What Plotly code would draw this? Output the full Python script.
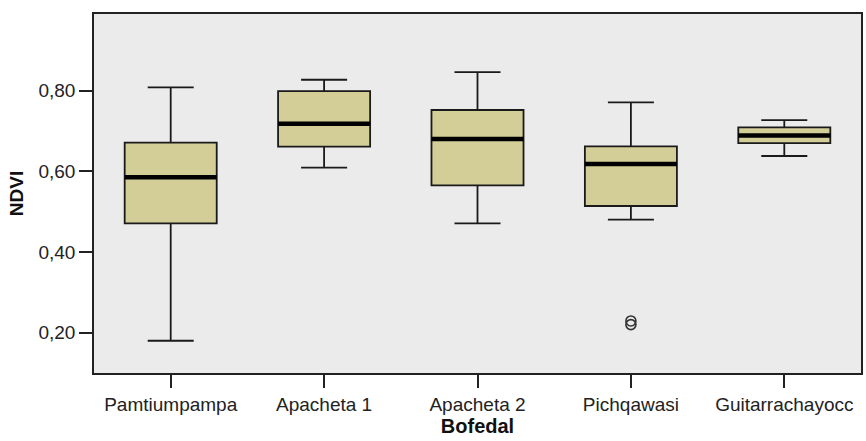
import plotly.graph_objects as go

# NDVI summary statistics per bofedal
bofedales = ["Pamtiumpampa", "Apacheta 1", "Apacheta 2", "Pichqawasi", "Guitarrachayocc"]
lower_whisker = [0.180, 0.609, 0.471, 0.480, 0.638]
q1 = [0.471, 0.661, 0.565, 0.514, 0.670]
median = [0.585, 0.718, 0.680, 0.618, 0.689]
q3 = [0.671, 0.799, 0.752, 0.662, 0.709]
upper_whisker = [0.808, 0.827, 0.846, 0.771, 0.727]

# Atypical values
outlier_group = ["Pichqawasi", "Pichqawasi"]
outlier_ndvi = [0.220, 0.229]

fig = go.Figure()

fig.add_trace(go.Box(
    x=bofedales,
    q1=q1, median=median, q3=q3,
    lowerfence=lower_whisker, upperfence=upper_whisker,
    fillcolor="#D3CE97",
    line=dict(color="#1a1a1a", width=1.8),
    whiskerwidth=0.5,
    boxpoints=False,
    showlegend=False,
    hoverinfo="skip",
))

# Thick median bar drawn as a collapsed box
fig.add_trace(go.Box(
    x=bofedales,
    q1=median, median=median, q3=median,
    lowerfence=median, upperfence=median,
    fillcolor="rgba(0,0,0,0)",
    line=dict(color="#000000", width=4.5),
    whiskerwidth=0,
    boxpoints=False,
    showlegend=False,
    hoverinfo="skip",
))

fig.add_trace(go.Scatter(
    x=outlier_group, y=outlier_ndvi,
    mode="markers",
    marker=dict(symbol="circle-open", size=10, color="#333333", line=dict(width=1.6)),
    showlegend=False,
    hoverinfo="skip",
))

fig.update_layout(
    width=866, height=441,
    margin=dict(l=94, r=3, t=14, b=68),
    paper_bgcolor="white",
    plot_bgcolor="#EBEBEB",
    boxmode="overlay",
    boxgap=0.4,
    boxgroupgap=0,
    separators=",.",
    font=dict(family="Liberation Sans, Arial, sans-serif", size=19, color="#222222"),
)

fig.update_xaxes(
    showline=True, linecolor="#222222", linewidth=1.5, mirror=True,
    showgrid=False, zeroline=False,
    ticks="outside", ticklen=13, tickcolor="#222222", tickwidth=1.5,
    tickfont=dict(size=19, color="#222222"),
    title=dict(text="<b>Bofedal</b>", font=dict(size=20, color="#111111"), standoff=4),
)

fig.update_yaxes(
    range=[0.10, 0.99],
    tickvals=[0.2, 0.4, 0.6, 0.8],
    tickformat=".2f",
    showline=True, linecolor="#222222", linewidth=1.5, mirror=True,
    showgrid=False, zeroline=False,
    ticks="outside", ticklen=13, tickcolor="#222222", tickwidth=1.5,
    tickfont=dict(size=19, color="#222222"),
    title=dict(text="<b>NDVI</b>", font=dict(size=19, color="#111111"), standoff=10),
)

fig.write_html("out.html")
